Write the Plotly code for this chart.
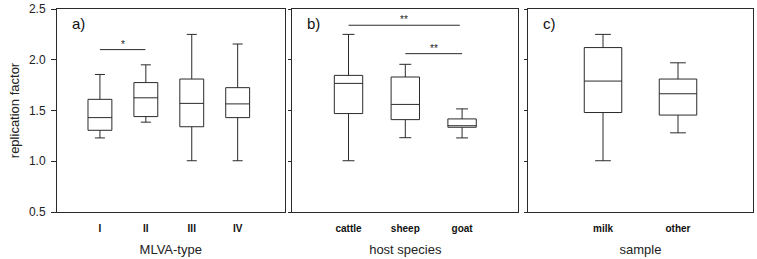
import plotly.graph_objects as go

W, H = 757, 259

# ---- data ----
mlva_types = ["I", "II", "III", "IV"]
mlva_lower = [1.23, 1.385, 1.005, 1.005]
mlva_q1 = [1.305, 1.44, 1.34, 1.43]
mlva_median = [1.43, 1.625, 1.57, 1.565]
mlva_q3 = [1.61, 1.775, 1.81, 1.725]
mlva_upper = [1.855, 1.95, 2.25, 2.155]

hosts = ["cattle", "sheep", "goat"]
host_lower = [1.005, 1.232, 1.23]
host_q1 = [1.47, 1.41, 1.335]
host_median = [1.767, 1.56, 1.35]
host_q3 = [1.846, 1.83, 1.417]
host_upper = [2.25, 1.955, 1.516]

samples = ["milk", "other"]
sample_lower = [1.005, 1.28]
sample_q1 = [1.48, 1.455]
sample_median = [1.79, 1.665]
sample_q3 = [2.12, 1.81]
sample_upper = [2.25, 1.97]

y_ticks = [0.5, 1.0, 1.5, 2.0, 2.5]
y_tick_labels = ["0.5", "1.0", "1.5", "2.0", "2.5"]

# significance bars: (panel, from index, to index, height, label)
sig_bars = [
    (1, 0, 0.99, 2.10, "*"),
    (2, 0, 1.96, 2.34, "**"),
    (2, 1, 2.0, 2.06, "**"),
]

panel_letters = ["a)", "b)", "c)"]
x_titles = ["MLVA-type", "host species", "sample"]

# ---- layout geometry (pixels) ----
px_domains = [(57, 284.5), (292.3, 518.3), (527.7, 753.3)]
x_ranges = [[-0.935, 4.02], [-0.99, 2.99], [-1.004, 2.004]]
y_dom = [1 - 212 / H, 1 - 9 / H]

LINE = "#2a2a2a"
FONT = "Liberation Sans, Arial, sans-serif"

fig = go.Figure()

panels = [
    (mlva_types, mlva_lower, mlva_q1, mlva_median, mlva_q3, mlva_upper, 0.52),
    (hosts, host_lower, host_q1, host_median, host_q3, host_upper, 0.5),
    (samples, sample_lower, sample_q1, sample_median, sample_q3, sample_upper, 0.5),
]

for i, (cats, lo, q1, med, q3, up, bw) in enumerate(panels):
    xa = "x" if i == 0 else f"x{i+1}"
    ya = "y" if i == 0 else f"y{i+1}"
    fig.add_trace(go.Box(
        x=cats, lowerfence=lo, q1=q1, median=med, q3=q3, upperfence=up,
        xaxis=xa, yaxis=ya, width=bw, whiskerwidth=0.42,
        fillcolor="white", line=dict(color=LINE, width=1),
        boxpoints=False, showlegend=False, hoverinfo="skip",
    ))

for i in range(3):
    sfx = "" if i == 0 else str(i + 1)
    d = px_domains[i]
    fig.update_layout(**{
        f"xaxis{sfx}": dict(
            domain=[d[0] / W, d[1] / W], range=x_ranges[i], type="category",
            showline=True, linecolor=LINE, linewidth=1, mirror=True,
            showgrid=False, zeroline=False, ticks="",
            tickfont=dict(family=FONT, size=10, color="#111", weight="bold"),
            ticklabelstandoff=7,
            title=dict(text=x_titles[i], font=dict(family=FONT, size=13, color="#222"),
                       standoff=11),
            anchor="y" + sfx, automargin=False, fixedrange=True,
        ),
        f"yaxis{sfx}": dict(
            domain=y_dom, range=[0.5, 2.5], tickvals=y_ticks, ticktext=y_tick_labels,
            showticklabels=(i == 0),
            showline=True, linecolor=LINE, linewidth=1, mirror=True,
            showgrid=False, zeroline=False, ticks="outside", ticklen=5 if i == 0 else 3,
            tickcolor=LINE, tickwidth=1,
            tickfont=dict(family=FONT, size=12, color="#222"),
            ticklabelstandoff=3,
            title=dict(text="replication factor" if i == 0 else "",
                       font=dict(family=FONT, size=13, color="#222"), standoff=6),
            anchor="x" + sfx, automargin=False, fixedrange=True,
        ),
    })
    fig.add_annotation(
        text=panel_letters[i], xref=f"x{sfx} domain", yref=f"y{sfx} domain",
        x=(13 / (d[1] - d[0])), y=1 - 14 / 203, xanchor="left", yanchor="middle",
        showarrow=False, font=dict(family=FONT, size=15, color="#111"),
    )

for panel, a, b, h, lab in sig_bars:
    sfx = "" if panel == 1 else str(panel)
    fig.add_shape(type="line", xref=f"x{sfx}", yref=f"y{sfx}",
                  x0=a, x1=b, y0=h, y1=h, line=dict(color=LINE, width=1))
    fig.add_annotation(text=lab, xref=f"x{sfx}", yref=f"y{sfx}",
                       x=(a + b) / 2, y=h, yanchor="bottom", yshift=-2,
                       showarrow=False, font=dict(family=FONT, size=10, color="#222222"))

fig.update_layout(
    width=W, height=H, margin=dict(l=0, r=0, t=0, b=0),
    paper_bgcolor="white", plot_bgcolor="white", showlegend=False,
)

fig.write_html("out.html", config={"displayModeBar": False},
               post_script="document.body.style.margin='0';document.body.style.overflow='hidden';")
